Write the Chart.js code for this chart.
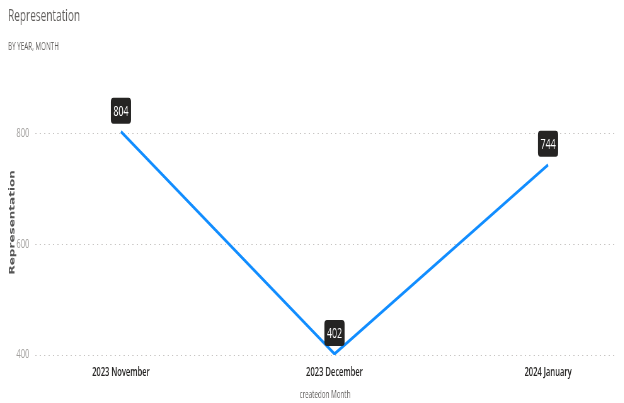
<!DOCTYPE html>
<html>
<head>
<meta charset="utf-8">
<script src="https://cdn.jsdelivr.net/npm/chart.js@4.4.1/dist/chart.umd.min.js"></script>
<style>
  html, body { margin: 0; padding: 0; background: #fff; overflow: hidden; }
  /* the reference is squeezed horizontally, so draw wide and scale down */
  #wrap {
    width: 990px;
    height: 403px;
    transform: scaleX(0.63);
    transform-origin: 0 0;
  }
</style>
</head>
<body>
<div id="wrap"><canvas id="chart"></canvas></div>
<script>
// Data
const months = ["2023 November", "2023 December", "2024 January"];
const representation = [804, 402, 744];
const yTicks = [400, 600, 800];

const lineColor = "#118DFF";

// Dark value boxes above each point
const valueBoxes = {
  id: "valueBoxes",
  afterDatasetsDraw(chart) {
    const ctx = chart.ctx;
    const meta = chart.getDatasetMeta(0);
    ctx.save();
    ctx.font = "14px 'Open Sans', sans-serif";
    ctx.textAlign = "center";
    ctx.textBaseline = "middle";
    meta.data.forEach((pt, i) => {
      const label = String(representation[i]);
      const w = ctx.measureText(label).width + 8;
      const h = 26;
      const bottom = pt.y - 8;
      ctx.fillStyle = "#252423";
      ctx.beginPath();
      ctx.roundRect(pt.x - w / 2, bottom - h, w, h, 4);
      ctx.fill();
      ctx.fillStyle = "#ffffff";
      ctx.fillText(label, pt.x, bottom - h / 2 + 1);
    });
    ctx.restore();
  },
};

new Chart(document.getElementById("chart"), {
  type: "line",
  data: {
    datasets: [
      {
        label: "Representation",
        data: representation.map((v, i) => ({ x: i, y: v })),
        borderColor: lineColor,
        backgroundColor: lineColor,
        borderWidth: 3.3,
        pointRadius: 0,
        tension: 0,
      },
    ],
  },
  options: {
    responsive: true,
    maintainAspectRatio: false,
    animation: false,
    layout: { padding: { left: 12.7, right: 14, top: 0, bottom: 0 } },
    plugins: {
      legend: { display: false },
      tooltip: { enabled: false },
      title: {
        display: true,
        text: "Representation",
        align: "start",
        color: "#605E5C",
        font: { family: "'Open Sans', sans-serif", size: 16, weight: "normal" },
        padding: { top: 7, bottom: 9 },
      },
      subtitle: {
        display: true,
        text: "BY YEAR, MONTH",
        align: "start",
        color: "#605E5C",
        font: { family: "'Open Sans', sans-serif", size: 10 },
        padding: { top: 6, bottom: 36.5 },
      },
    },
    scales: {
      x: {
        type: "linear",
        min: -0.402,
        max: 2.313,
        afterBuildTicks: (scale) => {
          scale.ticks = months.map((m, i) => ({ value: i }));
        },
        afterFit: (scale) => {
          scale.height = 48;
        },
        grid: { display: false, drawTicks: false },
        border: { display: false },
        ticks: {
          padding: 10,
          color: "#252423",
          font: { family: "'Open Sans', sans-serif", size: 12, weight: "600" },
          callback: (value) => months[value],
        },
        title: {
          display: true,
          text: "createdon Month",
          color: "#605E5C",
          font: { family: "'Open Sans', sans-serif", size: 10 },
          padding: { top: 0, bottom: 2 },
        },
      },
      y: {
        min: 400,
        max: 880,
        afterBuildTicks: (scale) => {
          scale.ticks = yTicks.map((v) => ({ value: v }));
        },
        afterFit: (scale) => {
          scale.width = 43;
        },
        grid: {
          color: "#C8C6C4",
          lineWidth: 1,
          drawTicks: false,
        },
        border: { display: false, dash: [2, 5] },
        ticks: {
          padding: 9,
          color: "#A19F9D",
          font: { family: "'Open Sans', sans-serif", size: 12 },
        },
        title: {
          display: true,
          text: "Representation",
          color: "#555555",
          font: { family: "'DejaVu Sans', sans-serif", size: 12, weight: "bold" },
          padding: { top: 0, bottom: 0 },
        },
      },
    },
  },
  plugins: [valueBoxes],
});
</script>
</body>
</html>
